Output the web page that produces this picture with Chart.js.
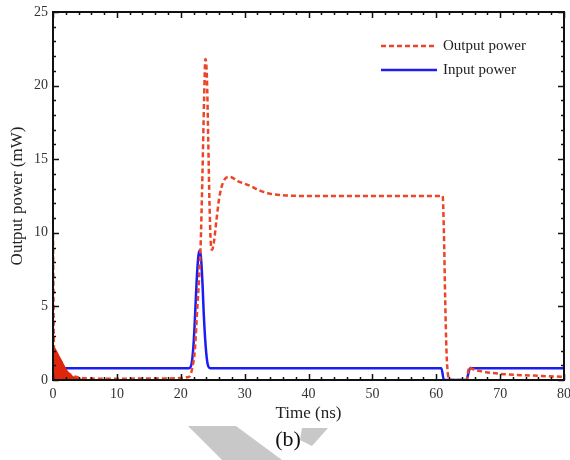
<!DOCTYPE html>
<html>
<head>
<meta charset="utf-8">
<script src="https://cdn.jsdelivr.net/npm/chart.js@4"></script>
<style>
  html, body { margin: 0; padding: 0; background: #fff; }
  #wrap { width: 570px; height: 460px; }
</style>
</head>
<body>
<div id="wrap"><canvas id="powerChart"></canvas></div>
<script>
// time (ns) / power (mW) pairs
const outputTime  = [0, 0.15, 1, 2, 3, 4, 5, 7, 10, 15, 20, 21, 21.4, 21.8, 22.2, 22.6, 23.1, 23.4, 23.65, 23.85, 24.1, 24.3, 24.5, 24.7, 24.9, 25.2, 25.6, 26, 26.6, 27.7, 29, 30.8, 32.5, 34, 36, 40, 50, 61, 61.2, 61.4, 61.6, 61.8, 62.1, 64.8, 65.0, 65.15, 65.5, 67, 70, 75, 80];
const outputPower = [10, 2.2, 1.4, 0.6, 0.3, 0.18, 0.12, 0.09, 0.09, 0.1, 0.13, 0.18, 0.25, 0.8, 2, 5, 9, 14, 19, 21.8, 20.5, 16.4, 12, 9.3, 8.85, 9.4, 10.9, 12.3, 13.4, 13.8, 13.5, 13.2, 12.85, 12.65, 12.55, 12.5, 12.5, 12.5, 10, 5.5, 2, 0.5, 0, 0, 0.6, 0.9, 0.78, 0.6, 0.42, 0.3, 0.22];

const inputTime  = [0, 21.3, 21.7, 22.0, 22.2, 22.5, 22.75, 22.95, 23.15, 23.4, 23.6, 23.9, 24.2, 24.6, 60.8, 61.2, 64.7, 65.3, 80];
const inputPower = [0.8, 0.8, 1.1, 2.4, 4, 6.8, 8.4, 8.8, 8.4, 6.6, 4.5, 2.3, 1.1, 0.8, 0.8, 0, 0, 0.8, 0.8];

// fast relaxation oscillations right after switch-on (envelope)
const ringTime  = [0, 0.05, 0.3, 0.6, 0.9, 1.2, 1.5, 1.8, 2.1, 2.5, 2.9, 3.3, 3.8, 4.5, 5.5];
const ringPower = [0, 2.3, 2.2, 2.0, 1.75, 1.5, 1.25, 1.0, 0.75, 0.52, 0.35, 0.22, 0.14, 0.08, 0];

const xTicks = [0, 10, 20, 30, 40, 50, 60, 70, 80];
const yTicks = [0, 5, 10, 15, 20, 25];
const seriesNames = ['Output power', 'Input power'];

const RED = 'rgb(236, 68, 38)';
const BLUE = 'rgb(28, 28, 245)';
const SERIF = '"Liberation Serif", "Times New Roman", serif';

const toPoints = (xs, ys) => xs.map((x, i) => ({ x: x, y: ys[i] }));

// boxed frame with inward ticks on all four sides, legend and caption
const framePlugin = {
  id: 'frame',
  afterDraw(chart) {
    const ctx = chart.ctx;
    const a = chart.chartArea;
    const xs = chart.scales.x;
    const ys = chart.scales.y;
    ctx.save();
    ctx.strokeStyle = '#111';
    ctx.lineWidth = 2;
    ctx.strokeRect(a.left, a.top, a.right - a.left, a.bottom - a.top);

    ctx.lineWidth = 1.5;
    for (let t = 0; t <= 80; t += 2) {
      const px = Math.round(xs.getPixelForValue(t)) + 0.5;
      const len = t % 10 === 0 ? 6 : 3;
      ctx.beginPath();
      ctx.moveTo(px, a.bottom); ctx.lineTo(px, a.bottom - len);
      ctx.moveTo(px, a.top); ctx.lineTo(px, a.top + len);
      ctx.stroke();
    }
    for (let v = 0; v <= 25; v += 1) {
      const py = Math.round(ys.getPixelForValue(v)) + 0.5;
      const len = v % 5 === 0 ? 6 : 3;
      ctx.beginPath();
      ctx.moveTo(a.left, py); ctx.lineTo(a.left + len, py);
      ctx.moveTo(a.right, py); ctx.lineTo(a.right - len, py);
      ctx.stroke();
    }

    // legend
    ctx.font = '15px ' + SERIF;
    ctx.fillStyle = '#222';
    ctx.textBaseline = 'middle';
    ctx.lineWidth = 2.5;
    ctx.strokeStyle = RED;
    ctx.setLineDash([5, 3]);
    ctx.beginPath(); ctx.moveTo(381, 46); ctx.lineTo(437, 46); ctx.stroke();
    ctx.setLineDash([]);
    ctx.strokeStyle = BLUE;
    ctx.beginPath(); ctx.moveTo(381, 70); ctx.lineTo(437, 70); ctx.stroke();
    ctx.fillText(seriesNames[0], 443, 46);
    ctx.fillText(seriesNames[1], 443, 70);

    // caption
    ctx.fillStyle = 'rgb(200, 200, 200)';
    ctx.beginPath();
    ctx.moveTo(188, 426); ctx.lineTo(236, 426); ctx.lineTo(282, 460); ctx.lineTo(222, 460);
    ctx.closePath(); ctx.fill();
    ctx.beginPath();
    ctx.moveTo(302, 428); ctx.lineTo(328, 428); ctx.lineTo(312, 446); ctx.lineTo(300, 440);
    ctx.closePath(); ctx.fill();
    ctx.fillStyle = '#111';
    ctx.font = '22px ' + SERIF;
    ctx.textAlign = 'center';
    ctx.fillText('(b)', 288, 440);
    ctx.restore();
  }
};

new Chart(document.getElementById('powerChart'), {
  type: 'line',
  data: {
    datasets: [
      {
        label: 'ringing',
        data: toPoints(ringTime, ringPower),
        borderWidth: 0,
        backgroundColor: 'rgb(222, 38, 12)',
        fill: 'origin',
        pointRadius: 0
      },
      {
        label: seriesNames[0],
        data: toPoints(outputTime, outputPower),
        borderColor: RED,
        borderWidth: 2.5,
        borderDash: [5, 3],
        cubicInterpolationMode: 'monotone',
        pointRadius: 0,
        fill: false
      },
      {
        label: seriesNames[1],
        data: toPoints(inputTime, inputPower),
        borderColor: BLUE,
        borderWidth: 2.5,
        cubicInterpolationMode: 'monotone',
        pointRadius: 0,
        fill: false
      }
    ]
  },
  options: {
    responsive: true,
    maintainAspectRatio: false,
    animation: false,
    layout: { padding: { top: 12, right: 6, left: 7, bottom: 36 } },
    plugins: {
      legend: { display: false },
      tooltip: { enabled: false }
    },
    scales: {
      x: {
        type: 'linear',
        min: 0,
        max: 80,
        afterBuildTicks: s => { s.ticks = xTicks.map(v => ({ value: v })); },
        afterFit: s => { s.height = 44; s.paddingLeft = 0; s.paddingRight = 0; },
        grid: { display: false, drawTicks: false },
        border: { display: false },
        ticks: { color: '#333', font: { family: SERIF, size: 14 }, padding: 6, maxRotation: 0 },
        title: { display: true, text: 'Time (ns)', color: '#222', font: { family: SERIF, size: 17 }, padding: { top: 0, bottom: 0 } }
      },
      y: {
        min: 0,
        max: 25,
        afterBuildTicks: s => { s.ticks = yTicks.map(v => ({ value: v })); },
        afterFit: s => { s.width = 46; s.paddingTop = 0; s.paddingBottom = 0; },
        grid: { display: false, drawTicks: false },
        border: { display: false },
        ticks: { color: '#333', font: { family: SERIF, size: 14 }, padding: 5 },
        title: { display: true, text: 'Output power (mW)', color: '#222', font: { family: SERIF, size: 17 }, padding: { top: 0, bottom: 2 } }
      }
    }
  },
  plugins: [framePlugin]
});
</script>
</body>
</html>
